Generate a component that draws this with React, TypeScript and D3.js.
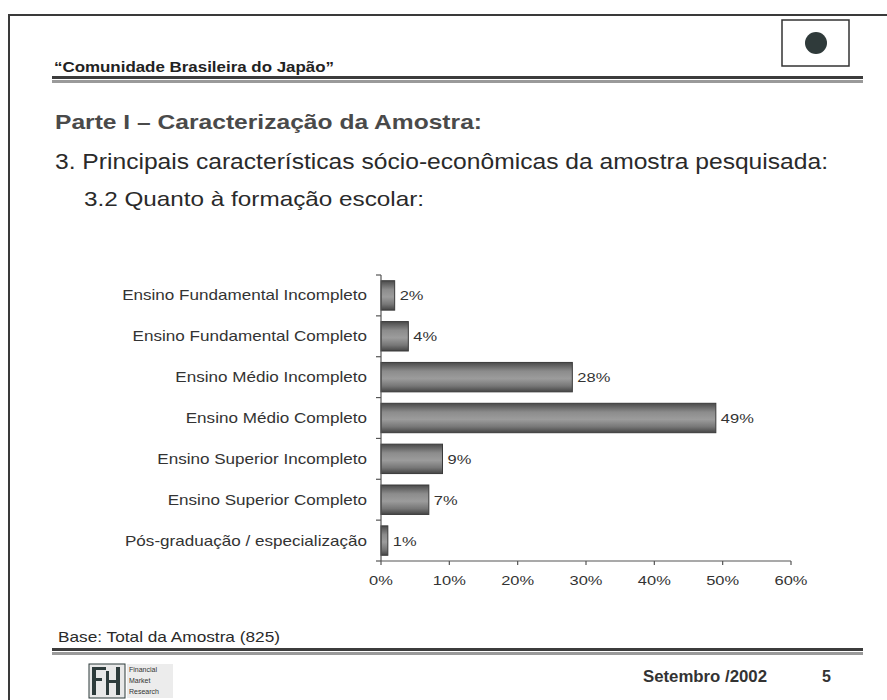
import React from "react";
import * as d3 from "d3";

const categories = [
  "Ensino Fundamental Incompleto",
  "Ensino Fundamental Completo",
  "Ensino Médio Incompleto",
  "Ensino Médio Completo",
  "Ensino Superior Incompleto",
  "Ensino Superior Completo",
  "Pós-graduação / especialização",
];
const values = [2, 4, 28, 49, 9, 7, 1];
const xTicks = [0, 10, 20, 30, 40, 50, 60];

const headerText = "\u201CComunidade Brasileira do Japão\u201D";
const title1 = "Parte I – Caracterização da Amostra:";
const title2 = "3. Principais características sócio-econômicas da amostra pesquisada:";
const title3 = "3.2 Quanto à formação escolar:";
const baseText = "Base: Total da Amostra (825)";
const dateText = "Setembro /2002";
const pageText = "5";

const W = 887;
const H = 700;
const FONT = "'Liberation Sans', Arial, sans-serif";

export default function App() {
  const x = d3.scaleLinear().domain([0, 60]).range([381, 791]);
  const y = d3
    .scaleBand<string>()
    .domain(categories)
    .range([275, 561])
    .paddingInner(0.28)
    .paddingOuter(0.14);
  const step = y.step();
  const boundaries = d3.range(categories.length + 1).map((i) => 275 + i * ((561 - 275) / categories.length));
  const sx = 1.22;

  return (
    <svg
      width={W}
      height={H}
      viewBox={`0 0 ${W} ${H}`}
      style={{ position: "absolute", left: 0, top: 0, background: "#fff" }}
    >
      <defs>
        <linearGradient id="barGrad" x1="0" y1="0" x2="0" y2="1">
          <stop offset="0" stopColor="#4a4a4a" />
          <stop offset="0.3" stopColor="#8c8c8c" />
          <stop offset="0.55" stopColor="#9c9c9c" />
          <stop offset="0.8" stopColor="#777" />
          <stop offset="1" stopColor="#454545" />
        </linearGradient>
      </defs>
      <rect x={0} y={0} width={W} height={H} fill="#fff" />

      {/* frame */}
      <line x1={8} y1={15} x2={W} y2={15} stroke="#3a3a3a" strokeWidth={2} />
      <line x1={9} y1={15} x2={9} y2={H} stroke="#3a3a3a" strokeWidth={2} />

      {/* header */}
      <text
        x={54}
        y={72}
        fontFamily={FONT}
        fontWeight="bold"
        fontSize={15}
        fill="#222"
        textLength={280}
        lengthAdjust="spacingAndGlyphs"
      >
        {headerText}
      </text>
      <rect x={782} y={20} width={67} height={46} fill="none" stroke="#333" strokeWidth={1.5} />
      <circle cx={816} cy={43} r={11} fill="#2f3a3a" />
      <rect x={52} y={76} width={811} height={3} fill="#3c3c3c" />
      <rect x={52} y={80} width={811} height={3} fill="#9a9a9a" />

      {/* titles */}
      <text
        x={55}
        y={129}
        fontFamily={FONT}
        fontWeight="bold"
        fontSize={21}
        fill="#4a4a4a"
        textLength={427}
        lengthAdjust="spacingAndGlyphs"
      >
        {title1}
      </text>
      <text
        x={55}
        y={169}
        fontFamily={FONT}
        fontSize={22}
        fill="#2a2a2a"
        textLength={773}
        lengthAdjust="spacingAndGlyphs"
      >
        {title2}
      </text>
      <text
        x={84}
        y={206}
        fontFamily={FONT}
        fontSize={21}
        fill="#2a2a2a"
        textLength={340}
        lengthAdjust="spacingAndGlyphs"
      >
        {title3}
      </text>

      {/* chart */}
      <g>
        {categories.map((c, i) => (
          <g key={c}>
            <rect
              x={x(0)}
              y={y(c)!}
              width={x(values[i]) - x(0)}
              height={y.bandwidth()}
              fill="url(#barGrad)"
              stroke="#3a3a3a"
              strokeWidth={1}
            />
            <text
              transform={`translate(${x(values[i]) + 5},${y(c)! + y.bandwidth() / 2 + 5}) scale(${sx},1)`}
              fontFamily={FONT}
              fontSize={13.5}
              fill="#333"
            >
              {values[i]}%
            </text>
            <text
              transform={`translate(367,${y(c)! + y.bandwidth() / 2 + 5}) scale(${sx},1)`}
              fontFamily={FONT}
              fontSize={14}
              fill="#333"
              textAnchor="end"
            >
              {c}
            </text>
          </g>
        ))}
        {/* y axis */}
        <line x1={381} y1={275} x2={381} y2={561} stroke="#555" strokeWidth={1.2} />
        {boundaries.map((b, i) => (
          <line key={i} x1={376} y1={b} x2={381} y2={b} stroke="#555" strokeWidth={1.2} />
        ))}
        {/* x axis */}
        <line x1={x(0)} y1={561} x2={x(60)} y2={561} stroke="#555" strokeWidth={1.2} />
        {xTicks.map((t) => (
          <g key={t}>
            <line x1={x(t)} y1={561} x2={x(t)} y2={565} stroke="#555" strokeWidth={1.2} />
            <text
              transform={`translate(${x(t)},585) scale(${sx},1)`}
              fontFamily={FONT}
              fontSize={13.5}
              fill="#333"
              textAnchor="middle"
            >
              {t}%
            </text>
          </g>
        ))}
      </g>

      {/* footer */}
      <text
        x={58}
        y={642}
        fontFamily={FONT}
        fontSize={15}
        fill="#2a2a2a"
        textLength={222}
        lengthAdjust="spacingAndGlyphs"
      >
        {baseText}
      </text>
      <rect x={52} y={648} width={811} height={3} fill="#3c3c3c" />
      <rect x={52} y={652} width={811} height={3} fill="#9a9a9a" />

      {/* logo */}
      <g>
        <rect x={89} y={664} width={36} height={34} fill="#e8e8e8" stroke="#2d3b3b" strokeWidth={1} />
        <rect x={92} y={667} width={4} height={28} fill="#2d3b3b" />
        <rect x={92} y={667} width={14} height={3} fill="#2d3b3b" />
        <rect x={92} y={678} width={10} height={3} fill="#2d3b3b" />
        <rect x={106} y={671} width={3} height={24} fill="#2d3b3b" />
        <rect x={116} y={667} width={4} height={28} fill="#2d3b3b" />
        <rect x={106} y={680} width={14} height={3} fill="#2d3b3b" />
        <rect x={127} y={664} width={46} height={34} fill="#ececec" />
        <text x={129} y={672} fontFamily={FONT} fontSize={7} fill="#333">Financial</text>
        <text x={129} y={683} fontFamily={FONT} fontSize={7} fill="#333">Market</text>
        <text x={129} y={694} fontFamily={FONT} fontSize={7} fill="#333">Research</text>
      </g>
      <text
        x={643}
        y={682}
        fontFamily={FONT}
        fontWeight="bold"
        fontSize={16}
        fill="#333"
        textLength={124}
        lengthAdjust="spacingAndGlyphs"
      >
        {dateText}
      </text>
      <text x={822} y={682} fontFamily={FONT} fontWeight="bold" fontSize={16} fill="#333">
        {pageText}
      </text>
    </svg>
  );
}
